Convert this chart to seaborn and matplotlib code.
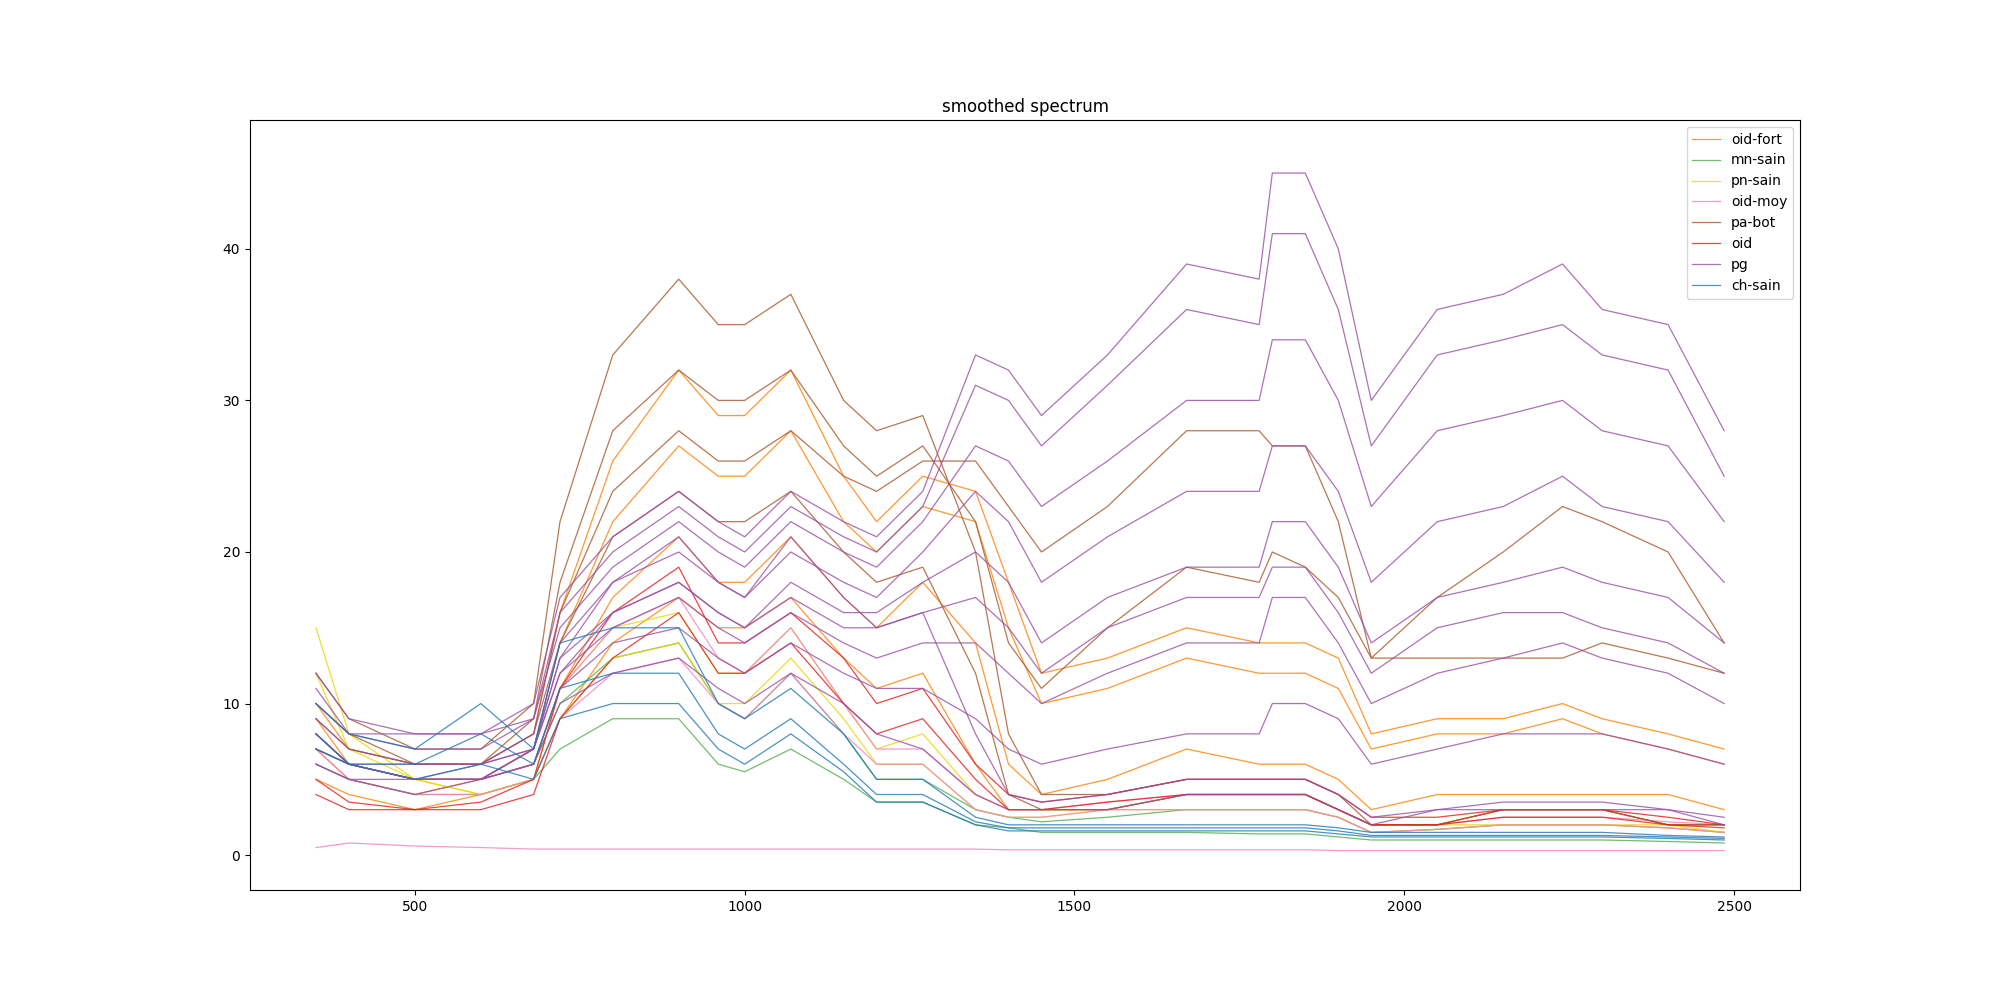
import matplotlib
matplotlib.use("Agg")
import matplotlib.pyplot as plt
import numpy as np
import pandas as pd
import seaborn as sns

wavelengths = [350, 400, 500, 600, 680, 720, 800, 900, 960, 1000, 1070, 1150, 1200, 1270, 1350,
               1400, 1450, 1550, 1670, 1780, 1800, 1850, 1900, 1950, 2050, 2150, 2240, 2300, 2400, 2485]

pg_curves = [
    [12, 9, 8, 8, 10, 17, 21, 24, 22, 21, 24, 22, 21, 24, 33, 32, 29, 33, 39, 38, 45, 45, 40, 30, 36, 37, 39, 36, 35, 28],
    [11, 8, 8, 8, 9, 16, 20, 23, 21, 20, 23, 21, 20, 23, 31, 30, 27, 31, 36, 35, 41, 41, 36, 27, 33, 34, 35, 33, 32, 25],
    [10, 8, 7, 7, 9, 15, 19, 22, 20, 19, 22, 20, 19, 22, 27, 26, 23, 26, 30, 30, 34, 34, 30, 23, 28, 29, 30, 28, 27, 22],
    [9, 7, 6, 6, 8, 14, 18, 20, 18, 17, 20, 18, 17, 20, 24, 22, 18, 21, 24, 24, 27, 27, 24, 18, 22, 23, 25, 23, 22, 18],
    [8, 6, 6, 6, 7, 13, 16, 18, 16, 15, 18, 16, 16, 18, 20, 18, 14, 17, 19, 19, 22, 22, 19, 14, 17, 18, 19, 18, 17, 14],
    [8, 6, 5, 6, 7, 12, 16, 18, 16, 15, 17, 15, 15, 16, 17, 15, 12, 15, 17, 17, 19, 19, 16, 12, 15, 16, 16, 15, 14, 12],
    [7, 6, 5, 5, 7, 12, 15, 17, 15, 14, 16, 14, 13, 14, 14, 12, 10, 12, 14, 14, 17, 17, 14, 10, 12, 13, 14, 13, 12, 10],
    [6, 5, 5, 5, 6, 11, 14, 15, 13, 12, 14, 12, 11, 11, 9, 7, 6, 7, 8, 8, 10, 10, 9, 6, 7, 8, 8, 8, 7, 6],
    [6, 5, 4, 5, 6, 10, 12, 13, 11, 10, 12, 10, 8, 7, 4, 3, 3, 3, 4, 4, 4, 4, 3, 2, 3, 3, 3, 3, 3, 2],
    [7, 6, 5, 5, 7, 13, 18, 21, 18, 17, 21, 17, 15, 16, 8, 4, 3.5, 4, 5, 5, 5, 5, 4, 2.5, 3, 3.5, 3.5, 3.5, 3, 2.5],
]
pa_bot_curves = [
    [12, 9, 7, 7, 10, 22, 33, 38, 35, 35, 37, 30, 28, 29, 20, 8, 4, 4, 5, 5, 5, 5, 4, 2, 2, 3, 3, 3, 2, 2],
    [10, 8, 6, 6, 9, 18, 28, 32, 30, 30, 32, 27, 25, 27, 22, 14, 11, 15, 19, 18, 20, 19, 17, 13, 13, 13, 13, 14, 13, 12],
    [9, 7, 6, 6, 8, 16, 24, 28, 26, 26, 28, 25, 24, 26, 26, 23, 20, 23, 28, 28, 27, 27, 22, 13, 17, 20, 23, 22, 20, 14],
    [8, 6, 5, 5, 7, 14, 21, 24, 22, 22, 24, 20, 18, 19, 12, 4, 3, 3, 4, 4, 4, 4, 3, 2, 2, 3, 3, 3, 2, 2],
]
oid_fort_curves = [
    [10, 7, 6, 6, 8, 16, 26, 32, 29, 29, 32, 25, 22, 25, 24, 18, 12, 13, 15, 14, 14, 14, 13, 8, 9, 9, 10, 9, 8, 7],
    [9, 6, 5, 5, 7, 14, 22, 27, 25, 25, 28, 22, 20, 23, 22, 15, 10, 11, 13, 12, 12, 12, 11, 7, 8, 8, 9, 8, 7, 6],
    [7, 5, 4, 5, 6, 11, 17, 21, 18, 18, 21, 17, 15, 18, 14, 6, 4, 5, 7, 6, 6, 6, 5, 3, 4, 4, 4, 4, 4, 3],
    [5, 4, 3, 4, 5, 9, 14, 17, 15, 15, 17, 13, 11, 12, 6, 3, 3, 3, 4, 4, 4, 4, 3, 2, 2, 3, 3, 3, 2, 2],
]
mn_sain_curves = [
    [6, 5, 4, 4, 5, 7, 9, 9, 6, 5.5, 7, 5, 3.5, 3.5, 2, 1.8, 1.5, 1.5, 1.5, 1.4, 1.4, 1.4, 1.2, 1, 1, 1, 1, 1, 0.9, 0.8],
    [7, 6, 5, 5, 6, 10, 13, 14, 10, 9, 12, 8, 5, 5, 3, 2.5, 2.2, 2.5, 3, 3, 3, 3, 2.5, 1.5, 1.7, 2, 2, 2, 1.8, 1.5],
]
pn_sain_curves = [
    [15, 8, 5, 4, 5, 11, 15, 16, 12, 12, 15, 10, 7, 8, 4, 3, 3, 3, 4, 4, 4, 4, 3, 2, 2, 2, 2, 2, 2, 1.5],
    [12, 7, 5, 4, 5, 9, 13, 14, 10, 10, 13, 9, 6, 6, 3, 2.5, 2.5, 3, 3, 3, 3, 3, 2.5, 1.5, 1.7, 2, 2, 2, 1.8, 1.5],
]
oid_moy_curves = [
    [0.5, 0.8, 0.6, 0.5, 0.4, 0.4, 0.4, 0.4, 0.4, 0.4, 0.4, 0.4, 0.4, 0.4, 0.4, 0.35, 0.35, 0.35, 0.35, 0.35, 0.35, 0.35, 0.3, 0.3, 0.3, 0.3, 0.3, 0.3, 0.3, 0.3],
    [7, 5, 4, 4, 5, 9, 12, 13, 10, 9, 12, 8, 6, 6, 3, 2.5, 2.5, 3, 3, 3, 3, 3, 2.5, 1.5, 1.7, 2, 2, 2, 1.8, 1.5],
    [8, 6, 5, 5, 6, 11, 15, 17, 13, 12, 15, 10, 7, 7, 4, 3, 3, 3.5, 4, 4, 4, 4, 3, 2, 2, 2.5, 2.5, 2.5, 2.2, 2],
]
oid_curves = [
    [5, 3.5, 3, 3.5, 5, 11, 16, 19, 14, 14, 16, 13, 10, 11, 6, 4, 3.5, 4, 5, 5, 5, 5, 4, 2.5, 2.5, 3, 3, 3, 2.5, 2],
    [4, 3, 3, 3, 4, 9, 13, 16, 12, 12, 14, 10, 8, 9, 5, 3, 3, 3.5, 4, 4, 4, 4, 3, 2, 2, 2.5, 2.5, 2.5, 2, 1.8],
]
ch_sain_curves = [
    [10, 8, 7, 10, 7, 14, 15, 15, 10, 9, 11, 8, 5, 5, 2.5, 2, 2, 2, 2, 2, 2, 2, 1.8, 1.5, 1.5, 1.5, 1.5, 1.5, 1.3, 1.2],
    [8, 6, 6, 8, 6, 11, 12, 12, 8, 7, 9, 6, 4, 4, 2.2, 1.8, 1.8, 1.8, 1.8, 1.8, 1.8, 1.8, 1.6, 1.3, 1.3, 1.3, 1.3, 1.3, 1.2, 1.1],
    [7, 6, 5, 6, 5, 9, 10, 10, 7, 6, 8, 5.5, 3.5, 3.5, 2, 1.6, 1.6, 1.6, 1.6, 1.6, 1.6, 1.6, 1.4, 1.2, 1.2, 1.2, 1.2, 1.2, 1.1, 1],
]

classes = ["oid-fort", "mn-sain", "pn-sain", "oid-moy", "pa-bot", "oid", "pg", "ch-sain"]
palette = {"oid-fort": "#ff7f00", "mn-sain": "#4daf4a", "pn-sain": "#e6d800", "oid-moy": "#f781bf",
           "pa-bot": "#a65628", "oid": "#e41a1c", "pg": "#984ea3", "ch-sain": "#1f77b4"}
curves_by_class = {"oid-fort": oid_fort_curves, "mn-sain": mn_sain_curves, "pn-sain": pn_sain_curves,
                   "oid-moy": oid_moy_curves, "pa-bot": pa_bot_curves, "oid": oid_curves,
                   "pg": pg_curves, "ch-sain": ch_sain_curves}

rows = []
for cls, curves in curves_by_class.items():
    for i, c in enumerate(curves):
        for w, v in zip(wavelengths, c):
            rows.append((cls, f"{cls}-{i}", w, v))
df = pd.DataFrame(rows, columns=["cls", "sample", "wavelength", "value"])

fig, ax = plt.subplots(figsize=(20, 10), dpi=100)
sns.lineplot(data=df, x="wavelength", y="value", hue="cls", units="sample", estimator=None,
             hue_order=classes, palette=palette, linewidth=0.9, alpha=0.8, ax=ax)
ax.set_xlim(250, 2600)
ax.set_ylim(-2.3, 48.5)
ax.set_xlabel("")
ax.set_ylabel("")
ax.set_title("smoothed spectrum")
ax.legend(loc="upper right")
fig.savefig("out.png")
